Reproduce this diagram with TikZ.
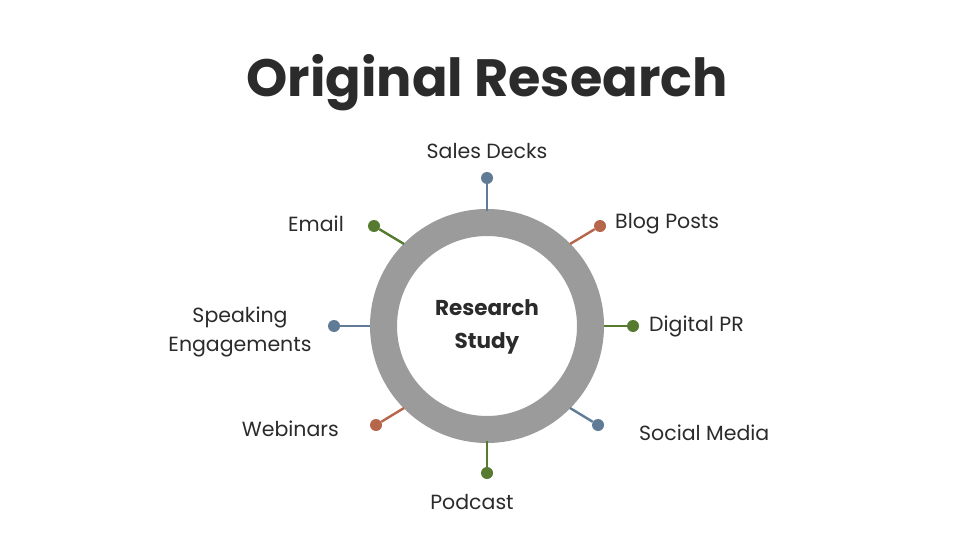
\documentclass[tikz,border=0pt]{standalone}
\usepackage{fontspec}
\setmainfont{Poppins}
\definecolor{ringgray}{HTML}{9B9B9B}
\definecolor{spblue}{HTML}{5F7B96}
\definecolor{sporange}{HTML}{B6664B}
\definecolor{spgreen}{HTML}{567A2F}
\definecolor{txt}{HTML}{2B2B2B}
\begin{document}
\begin{tikzpicture}[x=1pt,y=-1pt,
  lbl/.style={font=\fontsize{20.5}{29}\selectfont, text=txt, inner sep=0pt, align=center},
  spoke/.style={line width=2.4pt},
  dotnode/.style={circle, fill=#1, minimum size=12pt, inner sep=0pt}]
\useasboundingbox (0,0) rectangle (960,540);
\fill[white] (0,0) rectangle (960,540);
\node[font=\fontsize{52.5}{60}\selectfont\bfseries, text=txt, inner sep=0pt] (title) at (487,83) {Original Research};
\coordinate (c) at (487,326);
\fill[ringgray, even odd rule] (c) circle[radius=117] (c) circle[radius=90];
\node[font=\fontsize{21.5}{33}\selectfont\bfseries, text=txt, align=center, inner sep=0pt] (center) at (487,327) {Research\\Study};
% dots
\node[dotnode=spblue] (d1) at (487,178) {};
\node[dotnode=sporange] (d2) at (600,226) {};
\node[dotnode=spgreen] (d3) at (633,326) {};
\node[dotnode=spblue] (d4) at (598,425) {};
\node[dotnode=spgreen] (d5) at (487,473) {};
\node[dotnode=sporange] (d6) at (376,425) {};
\node[dotnode=spblue] (d7) at (334,326) {};
\node[dotnode=spgreen] (d8) at (374,226) {};
% spokes
\coordinate (r1) at (487,211);
\coordinate (r2) at (570,244);
\coordinate (r3) at (604,326);
\coordinate (r4) at (570,408);
\coordinate (r5) at (487,441);
\coordinate (r6) at (404,408);
\coordinate (r7) at (370,326);
\coordinate (r8) at (404,244);
\draw[spoke, spblue] (r1) -- (d1);
\draw[spoke, sporange] (r2) -- (d2);
\draw[spoke, spgreen] (r3) -- (d3);
\draw[spoke, spblue] (r4) -- (d4);
\draw[spoke, spgreen] (r5) -- (d5);
\draw[spoke, sporange] (r6) -- (d6);
\draw[spoke, spblue] (r7) -- (d7);
\draw[spoke, spgreen] (r8) -- (d8);
% labels
\node[lbl] (l1) at (487,151) {Sales Decks};
\node[lbl, anchor=west] (l2) at (615,224) {Blog Posts};
\node[lbl, anchor=west] (l3) at (649,326) {Digital PR};
\node[lbl, anchor=west] (l4) at (639,433) {Social Media};
\node[lbl] (l5) at (472,502) {Podcast};
\node[lbl, anchor=east] (l6) at (339,429) {Webinars};
\node[lbl] (l7) at (240,332) {Speaking\\Engagements};
\node[lbl, anchor=east] (l8) at (344,224) {Email};
\end{tikzpicture}
\end{document}
